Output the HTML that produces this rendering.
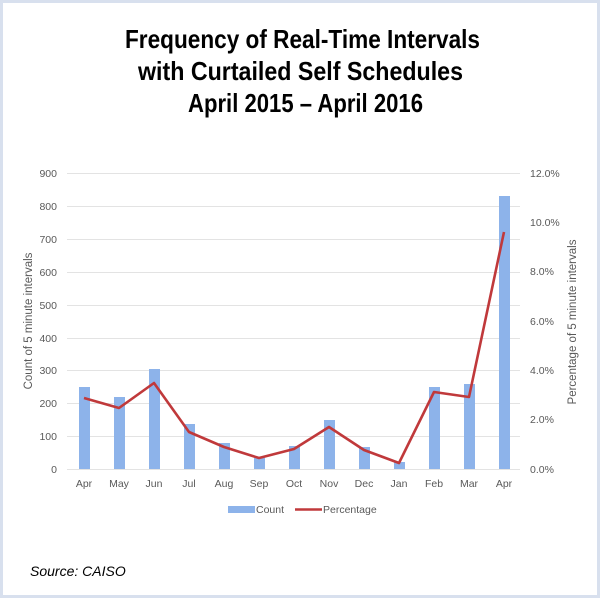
<!DOCTYPE html>
<html><head><meta charset="utf-8"><style>
html,body{margin:0;padding:0;background:#fff}
svg{display:block}
</style></head><body>
<svg width="600" height="598" viewBox="0 0 600 598" xmlns="http://www.w3.org/2000/svg" font-family="Liberation Sans, sans-serif">
<rect x="1.5" y="1.5" width="597" height="595" fill="#fff" stroke="#d8e0ee" stroke-width="3"/>
<g font-weight="bold" font-size="26" fill="#000" text-anchor="middle">
<text x="302.5" y="48" textLength="355" lengthAdjust="spacingAndGlyphs">Frequency of Real-Time Intervals</text>
<text x="300.5" y="80" textLength="325" lengthAdjust="spacingAndGlyphs">with Curtailed Self Schedules</text>
<text x="305.5" y="112" textLength="235" lengthAdjust="spacingAndGlyphs">April 2015 – April 2016</text>
</g>
<g stroke="#e3e3e3" stroke-width="1">
<line x1="67" x2="520" y1="173.5" y2="173.5"/><line x1="67" x2="520" y1="206.5" y2="206.5"/>
<line x1="67" x2="520" y1="239.5" y2="239.5"/><line x1="67" x2="520" y1="272.5" y2="272.5"/>
<line x1="67" x2="520" y1="305.5" y2="305.5"/><line x1="67" x2="520" y1="338.5" y2="338.5"/>
<line x1="67" x2="520" y1="370.5" y2="370.5"/><line x1="67" x2="520" y1="403.5" y2="403.5"/>
<line x1="67" x2="520" y1="436.5" y2="436.5"/><line x1="67" x2="520" y1="469.5" y2="469.5"/>
</g>
<g fill="#595959" font-size="10.5" text-anchor="end">
<text x="57" y="177">900</text><text x="57" y="210">800</text><text x="57" y="243">700</text>
<text x="57" y="276">600</text><text x="57" y="309">500</text><text x="57" y="342">400</text>
<text x="57" y="374">300</text><text x="57" y="407">200</text><text x="57" y="440">100</text>
<text x="57" y="473">0</text>
</g>
<g fill="#595959" font-size="10.5">
<text x="530" y="177">12.0%</text><text x="530" y="226">10.0%</text><text x="530" y="275">8.0%</text>
<text x="530" y="325">6.0%</text><text x="530" y="374">4.0%</text><text x="530" y="423">2.0%</text>
<text x="530" y="473">0.0%</text>
</g>
<text transform="translate(32,321) rotate(-90)" text-anchor="middle" font-size="11.5" fill="#595959">Count of 5 minute intervals</text>
<text transform="translate(576,322) rotate(-90)" text-anchor="middle" font-size="11.5" fill="#595959">Percentage of 5 minute intervals</text>
<g fill="#8db3ea">
<rect x="79" y="387" width="11" height="82"/>
<rect x="114" y="397" width="11" height="72"/>
<rect x="149" y="369" width="11" height="100"/>
<rect x="184" y="424" width="11" height="45"/>
<rect x="219" y="443" width="11" height="26"/>
<rect x="254" y="458" width="11" height="11"/>
<rect x="289" y="446" width="11" height="23"/>
<rect x="324" y="420" width="11" height="49"/>
<rect x="359" y="447" width="11" height="22"/>
<rect x="394" y="462" width="11" height="7"/>
<rect x="429" y="387" width="11" height="82"/>
<rect x="464" y="384" width="11" height="85"/>
<rect x="499" y="196" width="11" height="273"/>
</g>
<polyline fill="none" stroke="#c0393b" stroke-width="2.6" stroke-linejoin="round" points="84,398 119,408 154,383 189,432 224,447 259,458 294,449 329,427 364,450 399,463 434,392 469,397 504,232"/>
<g fill="#595959" font-size="10.5" text-anchor="middle">
<text x="84" y="487">Apr</text><text x="119" y="487">May</text><text x="154" y="487">Jun</text>
<text x="189" y="487">Jul</text><text x="224" y="487">Aug</text><text x="259" y="487">Sep</text>
<text x="294" y="487">Oct</text><text x="329" y="487">Nov</text><text x="364" y="487">Dec</text>
<text x="399" y="487">Jan</text><text x="434" y="487">Feb</text><text x="469" y="487">Mar</text>
<text x="504" y="487">Apr</text>
</g>
<rect x="228" y="506" width="27" height="7" fill="#8db3ea"/>
<text x="256" y="513" font-size="10.5" fill="#595959">Count</text>
<line x1="295" x2="322" y1="509.5" y2="509.5" stroke="#c0393b" stroke-width="2.6"/>
<text x="323" y="513" font-size="10.5" fill="#595959">Percentage</text>
<text x="30" y="576" font-size="14" font-style="italic" fill="#000">Source: CAISO</text>
</svg>
</body></html>
